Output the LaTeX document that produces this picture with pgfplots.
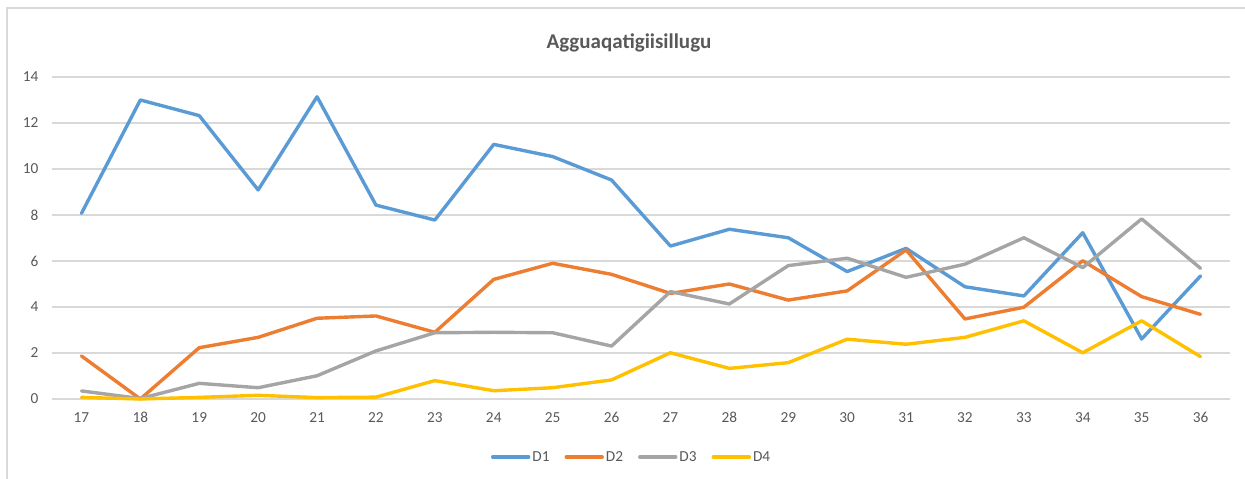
\documentclass[border=0pt]{standalone}
\usepackage{pgfplots}
\pgfplotsset{compat=1.18}
\usepackage{fontspec}
\setmainfont{Carlito}
\definecolor{c1}{HTML}{5B9BD5}
\definecolor{c2}{HTML}{ED7D31}
\definecolor{c3}{HTML}{A5A5A5}
\definecolor{c4}{HTML}{FFC000}
\definecolor{gridc}{HTML}{D9D9D9}
\definecolor{txt}{HTML}{595959}
\begin{document}
\begin{tikzpicture}[x=1bp,y=1bp]
\useasboundingbox (0,0) rectangle (1245,479);
\draw[color=gridc, line width=1.2bp] (7,-2) -- (7,471) -- (1247,471);
\node[anchor=base, font=\fontsize{21bp}{25bp}\selectfont\bfseries, text=txt] at (629,430.7) {Agguaqatigiisillugu};
\begin{axis}[
  at={(52bp,80bp)}, anchor=south west,
  scale only axis, width=1178bp, height=322bp,
  xmin=16.5, xmax=36.5, ymin=0, ymax=14,
  xtick={17,...,36}, ytick={0,2,...,14},
  ymajorgrids, grid style={color=gridc, line width=1.2bp},
  axis line style={draw=none},
  major tick length=0,
  clip=false,
  tick label style={font=\fontsize{15.3bp}{18bp}\selectfont, text=txt},
  /pgf/number format/assume math mode=true,
  yticklabel style={xshift=-10bp},
  xticklabel style={yshift=-10bp},
  every axis plot/.append style={line width=3.4bp, line join=round, line cap=round, mark=none},
  legend columns=4,
  legend style={draw=none, fill=none, at={(0.492,-0.180)}, anchor=center,
    font=\fontsize{15.3bp}{18bp}\selectfont, text=txt,
    /tikz/every even column/.append style={column sep=13bp}},
  legend image code/.code={\draw[#1] (0bp,0bp) -- (36bp,0bp);},
]
\addplot[c1] coordinates {(17,8.07)(18,13.0)(19,12.32)(20,9.09)(21,13.14)(22,8.43)(23,7.78)(24,11.07)(25,10.54)(26,9.52)(27,6.65)(28,7.38)(29,7.01)(30,5.54)(31,6.55)(32,4.88)(33,4.48)(34,7.23)(35,2.61)(36,5.35)};
\addlegendentry{D1}
\addplot[c2] coordinates {(17,1.87)(18,0.0)(19,2.23)(20,2.68)(21,3.51)(22,3.61)(23,2.9)(24,5.2)(25,5.9)(26,5.42)(27,4.59)(28,5.0)(29,4.3)(30,4.7)(31,6.48)(32,3.48)(33,3.99)(34,6.01)(35,4.45)(36,3.68)};
\addlegendentry{D2}
\addplot[c3] coordinates {(17,0.35)(18,0.02)(19,0.68)(20,0.49)(21,1.01)(22,2.09)(23,2.88)(24,2.9)(25,2.88)(26,2.3)(27,4.67)(28,4.13)(29,5.8)(30,6.12)(31,5.29)(32,5.86)(33,7.01)(34,5.71)(35,7.83)(36,5.68)};
\addlegendentry{D3}
\addplot[c4] coordinates {(17,0.07)(18,0.0)(19,0.07)(20,0.16)(21,0.06)(22,0.08)(23,0.8)(24,0.36)(25,0.49)(26,0.83)(27,2.01)(28,1.33)(29,1.58)(30,2.6)(31,2.38)(32,2.68)(33,3.4)(34,2.01)(35,3.4)(36,1.84)};
\addlegendentry{D4}
\end{axis}
\end{tikzpicture}
\end{document}
